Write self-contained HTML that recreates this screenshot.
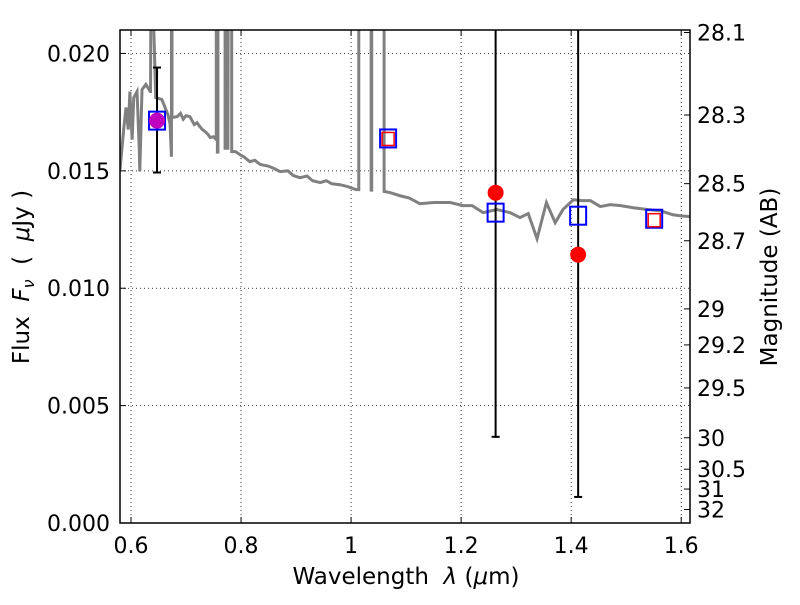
<!DOCTYPE html>
<html><head><meta charset="utf-8"><style>
body{margin:0;background:#fff}
svg{font-family:"DejaVu Sans","Liberation Sans",sans-serif}
</style></head><body>
<svg id="c" width="800" height="600" xmlns="http://www.w3.org/2000/svg"></svg>
<script>
const specLam=[0.580,0.587,0.591,0.595,0.598,0.602,0.605,0.611,0.615,0.616,0.620,0.627,0.635,0.6355,0.6365,0.6365,0.645,0.656,0.667,0.671,0.6735,0.6735,0.6745,0.6745,0.684,0.690,0.695,0.700,0.707,0.715,0.720,0.725,0.730,0.735,0.740,0.744,0.750,0.755,0.755,0.757,0.757,0.758,0.758,0.771,0.771,0.772,0.776,0.776,0.777,0.783,0.783,0.790,0.798,0.805,0.816,0.825,0.835,0.850,0.860,0.871,0.885,0.895,0.907,0.920,0.930,0.944,0.955,0.965,0.980,0.995,1.009,1.014,1.014,1.0365,1.0365,1.0375,1.0375,1.060,1.060,1.070,1.089,1.105,1.125,1.150,1.180,1.204,1.220,1.240,1.265,1.289,1.307,1.322,1.338,1.355,1.371,1.385,1.404,1.420,1.435,1.453,1.471,1.490,1.513,1.540,1.562,1.585,1.600,1.616];
const specFlux=[0.01505,0.01684,0.01770,0.01676,0.01838,0.01633,0.01812,0.01838,0.01591,0.01497,0.01846,0.01868,0.01838,0.01838,0.0250,0.0250,0.01812,0.01804,0.01740,0.01700,0.01560,0.0250,0.0250,0.01727,0.01731,0.01745,0.01720,0.01735,0.01731,0.01697,0.01705,0.01689,0.01675,0.01667,0.01655,0.01642,0.01645,0.01633,0.0250,0.0250,0.01580,0.01580,0.0250,0.0250,0.01590,0.0250,0.0250,0.01590,0.0250,0.0250,0.01582,0.01582,0.01569,0.01560,0.01539,0.01545,0.01527,0.01520,0.01510,0.01497,0.01500,0.01480,0.01471,0.01478,0.01458,0.01450,0.01458,0.01445,0.01441,0.01432,0.01420,0.01420,0.0250,0.0250,0.01418,0.01418,0.0250,0.0250,0.01412,0.01408,0.01394,0.01385,0.01360,0.01365,0.01365,0.01352,0.01352,0.01322,0.01335,0.01322,0.01301,0.01318,0.01211,0.01365,0.01279,0.01335,0.01377,0.01373,0.01373,0.01348,0.01356,0.01352,0.01343,0.01335,0.01330,0.01313,0.01308,0.01305];
const obsLam=[0.6473,1.2627,1.4127];
const obsFlux=[0.01714,0.01407,0.01143];
const obsErrLo=[0.01493,0.00367,0.00111];
const obsErrHi=[0.01940,0.0250,0.0250];
const modLam=[0.6473,1.0673,1.2627,1.4127,1.5509];
const modFlux=[0.01714,0.01638,0.01322,0.01309,0.01296];
const upLam=[1.0673,1.5509];
const upFlux=[0.01638,0.01292];
const xTicks=[0.6,0.8,1.0,1.2,1.4,1.6];
const xTickLabels=["0.6","0.8","1","1.2","1.4","1.6"];
const yTicks=[0,0.005,0.010,0.015,0.020];
const yTickLabels=["0.000","0.005","0.010","0.015","0.020"];
const magTicks=[28.1,28.3,28.5,28.7,29,29.2,29.5,30,30.5,31,32];

const L=120,R=690,T=30,B=523,X0=0.58,X1=1.616,Y0=0,Y1=0.021;
const sx=v=>L+(v-X0)/(X1-X0)*(R-L);
const sy=v=>B-(v-Y0)/(Y1-Y0)*(B-T);
const NS="http://www.w3.org/2000/svg";
const svg=document.getElementById('c');
function el(tag,attrs,parent){const e=document.createElementNS(NS,tag);for(const k in attrs)e.setAttribute(k,attrs[k]);(parent||svg).appendChild(e);return e;}
const defs=el('defs',{});
const cp=el('clipPath',{id:'clip'},defs);el('rect',{x:L,y:T,width:R-L,height:B-T},cp);
const grid=el('g',{});


xTicks.forEach((t,i)=>{const x=sx(t);
 el('line',{x1:x,y1:T,x2:x,y2:B,stroke:'#000','stroke-dasharray':'1,3','stroke-width':0.8},grid);
 el('line',{x1:x,y1:B,x2:x,y2:B-6,stroke:'#000'},grid);el('line',{x1:x,y1:T,x2:x,y2:T+6,stroke:'#000'},grid);
 const tx=el('text',{x:x,y:B+30,'font-size':22,'text-anchor':'middle'});tx.textContent=xTickLabels[i];
 
 
});
yTicks.forEach((t,i)=>{const y=sy(t);
 el('line',{x1:L,y1:y,x2:R,y2:y,stroke:'#000','stroke-dasharray':'1,3','stroke-width':0.8},grid);
 el('line',{x1:L,y1:y,x2:L+6,y2:y,stroke:'#000'},grid);
 const tx=el('text',{x:L-10,y:y+8,'font-size':22,'text-anchor':'end'});tx.textContent=yTickLabels[i];
 
 
});
magTicks.forEach(m=>{const f=Math.pow(10,(23.9-m)/2.5);const y=sy(f);
 el('line',{x1:R,y1:y,x2:R-6,y2:y,stroke:'#000'},grid);
 const tx=el('text',{x:R+7,y:y+8,'font-size':22});tx.textContent=String(m);
 
 
});
const plot=el('g',{'clip-path':'url(#clip)'});
const sp=el('polyline',{points:specLam.map((l,i)=>sx(l)+','+sy(specFlux[i])).join(' '),fill:'none',stroke:'#808080','stroke-width':3,'stroke-linejoin':'miter'},plot);


obsLam.forEach((l,i)=>{const x=sx(l);
 const g=el('g',{},plot);
 
 
 el('line',{x1:x,y1:sy(obsErrLo[i]),x2:x,y2:sy(obsErrHi[i]),stroke:'#000','stroke-width':2},g);
 [obsErrLo[i],obsErrHi[i]].forEach(v=>el('line',{x1:x-4,y1:sy(v),x2:x+4,y2:sy(v),stroke:'#000','stroke-width':2},g));
});
modLam.forEach((l,i)=>{const r=el('rect',{x:sx(l)-8,y:sy(modFlux[i])-9,width:16,height:18,fill:'none',stroke:'#0000ff','stroke-width':2},plot);
 
 
});
upLam.forEach((l,i)=>{const r=el('rect',{x:sx(l)-6,y:sy(upFlux[i])-6,width:12,height:13,fill:'none',stroke:'#ff0000','stroke-width':1.5},plot);
 
 
});
obsLam.forEach((l,i)=>{const c=el('circle',{cx:sx(l),cy:sy(obsFlux[i]),r:8,fill:i===0?'#bf00bf':'#ff0000'},plot);
 
 
});
const fr=el('rect',{x:L,y:T,width:R-L,height:B-T,fill:'none',stroke:'#000','stroke-width':1.5});


</script>
<svg width="800" height="600" style="position:absolute;left:0;top:0" xmlns="http://www.w3.org/2000/svg">
<text x="406" y="584" font-size="23" text-anchor="middle" font-family="DejaVu Sans,sans-serif" xml:space="preserve">Wavelength  <tspan font-style="italic">λ</tspan> (<tspan font-style="italic">μ</tspan>m)</text>
<text transform="translate(29,277) rotate(-90)" font-size="23" text-anchor="middle" font-family="DejaVu Sans,sans-serif" xml:space="preserve">Flux  <tspan font-style="italic">F</tspan><tspan font-style="italic" font-size="16" dy="5">ν</tspan><tspan dy="-5">  (  </tspan><tspan font-style="italic">μ</tspan>Jy )</text>
<text transform="translate(777,277) rotate(-90)" font-size="23" text-anchor="middle" font-family="DejaVu Sans,sans-serif">Magnitude (AB)</text>
</svg>
</body></html>
